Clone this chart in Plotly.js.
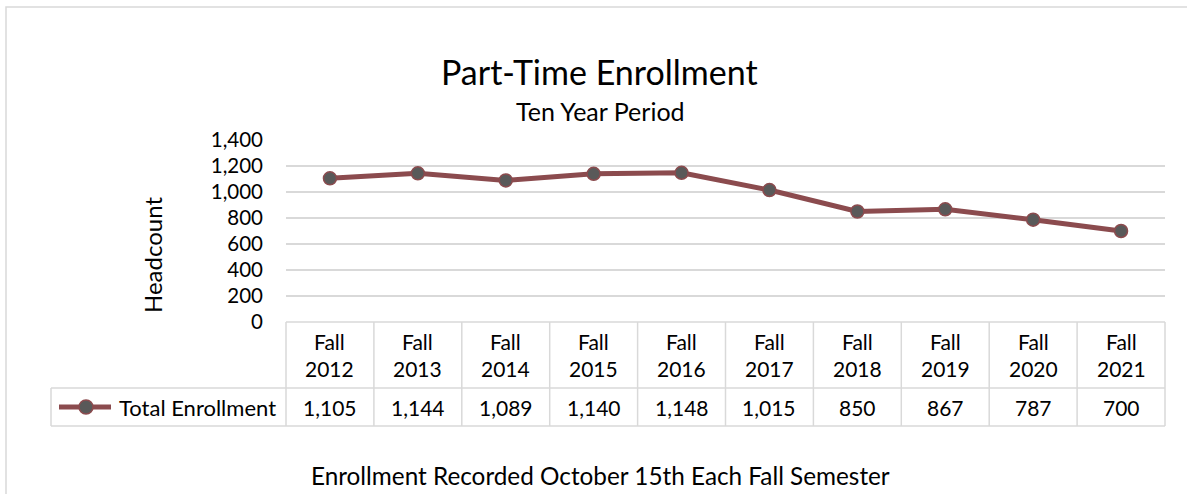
<!DOCTYPE html>
<html>
<head>
<meta charset="utf-8">
<script src="https://cdn.plot.ly/plotly-3.0.1.min.js"></script>
<style>
html,body{margin:0;padding:0;background:#fff;}
#chart{width:1187px;height:494px;}
</style>
</head>
<body>
<div id="chart"></div>
<script>
const categories = ['Fall 2012','Fall 2013','Fall 2014','Fall 2015','Fall 2016','Fall 2017','Fall 2018','Fall 2019','Fall 2020','Fall 2021'];
const enrollment = [1105,1144,1089,1140,1148,1015,850,867,787,700];
const seriesName = 'Total Enrollment';
const yTickVals = [0,200,400,600,800,1000,1200,1400];
const titleText = 'Part-Time Enrollment';
const subtitleText = 'Ten Year Period';
const yTitleText = 'Headcount';
const footerText = 'Enrollment Recorded October 15th Each Fall Semester';

const W = 1187, H = 494;
const L = 286, R = 1165, T = 140, B = 322;
const pw = R - L, ph = B - T;
const px = x => (x - L) / pw;
const py = y => (B - y) / ph;

const FONT = 'Lato, "Open Sans", sans-serif';
const lineColor = '#8B4B4E';
const markerColor = '#595959';
const gridColor = '#d9d9d9';
const txt = '#000000';

const xIdx = categories.map((c, i) => i);
const fmt = v => v.toLocaleString('en-US');

const trace = {
  x: xIdx, y: enrollment, type: 'scatter', mode: 'lines+markers',
  name: seriesName,
  line: {color: lineColor, width: 5},
  marker: {color: markerColor, size: 13, line: {color: lineColor, width: 1.5}},
  hoverinfo: 'skip'
};

const shapes = [];
const annotations = [];
const gl = {color: gridColor, width: 1.5};

// table lines
shapes.push({type:'line', xref:'paper', yref:'paper', x0:0, x1:1, y0:0, y1:0, line:gl});
shapes.push({type:'line', xref:'paper', yref:'paper', x0:px(51), x1:1, y0:py(388), y1:py(388), line:gl});
shapes.push({type:'line', xref:'paper', yref:'paper', x0:px(51), x1:1, y0:py(426), y1:py(426), line:gl});
shapes.push({type:'line', xref:'paper', yref:'paper', x0:px(51), x1:px(51), y0:py(388), y1:py(426), line:gl});
shapes.push({type:'line', xref:'paper', yref:'paper', x0:0, x1:0, y0:0, y1:py(426), line:gl});
shapes.push({type:'line', xref:'paper', yref:'paper', x0:1, x1:1, y0:0, y1:py(426), line:gl});
for (let i = 0; i < categories.length - 1; i++) {
  shapes.push({type:'line', xref:'x', yref:'paper', x0:i+0.5, x1:i+0.5, y0:0, y1:py(426), line:gl});
}
// chart border
shapes.push({type:'rect', xref:'paper', yref:'paper', x0:px(6), x1:px(1200), y0:py(7), y1:py(500), line:{color:'#d9d9d9', width:1.5}, fillcolor:'rgba(0,0,0,0)'});

// legend key
shapes.push({type:'line', xref:'paper', yref:'paper', x0:px(59), x1:px(111), y0:py(407), y1:py(407), line:{color:lineColor, width:5}});
shapes.push({type:'circle', xref:'paper', yref:'paper', xsizemode:'pixel', ysizemode:'pixel',
  xanchor:px(86), yanchor:py(407), x0:-7, x1:7, y0:-7, y1:7,
  fillcolor:markerColor, line:{color:lineColor, width:1.5}});

annotations.push({xref:'paper', yref:'paper', x:px(117), y:py(407), text:seriesName, showarrow:false,
  xanchor:'left', yanchor:'middle', font:{family:FONT, size:22, color:txt}});

categories.forEach((c, i) => {
  const parts = c.split(' ');
  annotations.push({xref:'x', yref:'paper', x:i, y:py(341), text:parts[0], showarrow:false,
    xanchor:'center', yanchor:'middle', font:{family:FONT, size:21, color:txt}});
  annotations.push({xref:'x', yref:'paper', x:i, y:py(368), text:parts[1], showarrow:false,
    xanchor:'center', yanchor:'middle', font:{family:FONT, size:21, color:txt}});
  annotations.push({xref:'x', yref:'paper', x:i, y:py(407), text:fmt(enrollment[i]), showarrow:false,
    xanchor:'center', yanchor:'middle', font:{family:FONT, size:21, color:txt}});
});

// titles
annotations.push({xref:'paper', yref:'paper', x:px(599), y:py(71), text:titleText, showarrow:false,
  xanchor:'center', yanchor:'middle', font:{family:FONT, size:34, color:txt}});
annotations.push({xref:'paper', yref:'paper', x:px(600), y:py(111), text:subtitleText, showarrow:false,
  xanchor:'center', yanchor:'middle', font:{family:FONT, size:25, color:txt}});
annotations.push({xref:'paper', yref:'paper', x:px(152), y:py(255), text:yTitleText, showarrow:false,
  textangle:-90, xanchor:'center', yanchor:'middle', font:{family:FONT, size:24, color:txt}});
annotations.push({xref:'paper', yref:'paper', x:px(600), y:py(475), text:footerText, showarrow:false,
  xanchor:'center', yanchor:'middle', font:{family:FONT, size:24.3, color:txt}});

const layout = {
  width: W, height: H,
  margin: {l: L, r: W - R, t: T, b: H - B, pad: 0},
  paper_bgcolor: '#fff', plot_bgcolor: '#fff',
  showlegend: false,
  xaxis: {range: [-0.5, categories.length - 0.5], showgrid: false, zeroline: false, showticklabels: false, ticks: '', fixedrange: true},
  yaxis: {range: [0, 1400], tickvals: yTickVals, tickformat: ',d', showgrid: true, gridcolor: gridColor, gridwidth: 1.5,
    zeroline: false, ticks: '', ticklabelstandoff: 22, tickfont: {family: FONT, size: 20.5, color: txt}, fixedrange: true},
  shapes: shapes,
  annotations: annotations
};

Plotly.newPlot('chart', [trace], layout, {displayModeBar: false, staticPlot: true});
</script>
</body>
</html>
